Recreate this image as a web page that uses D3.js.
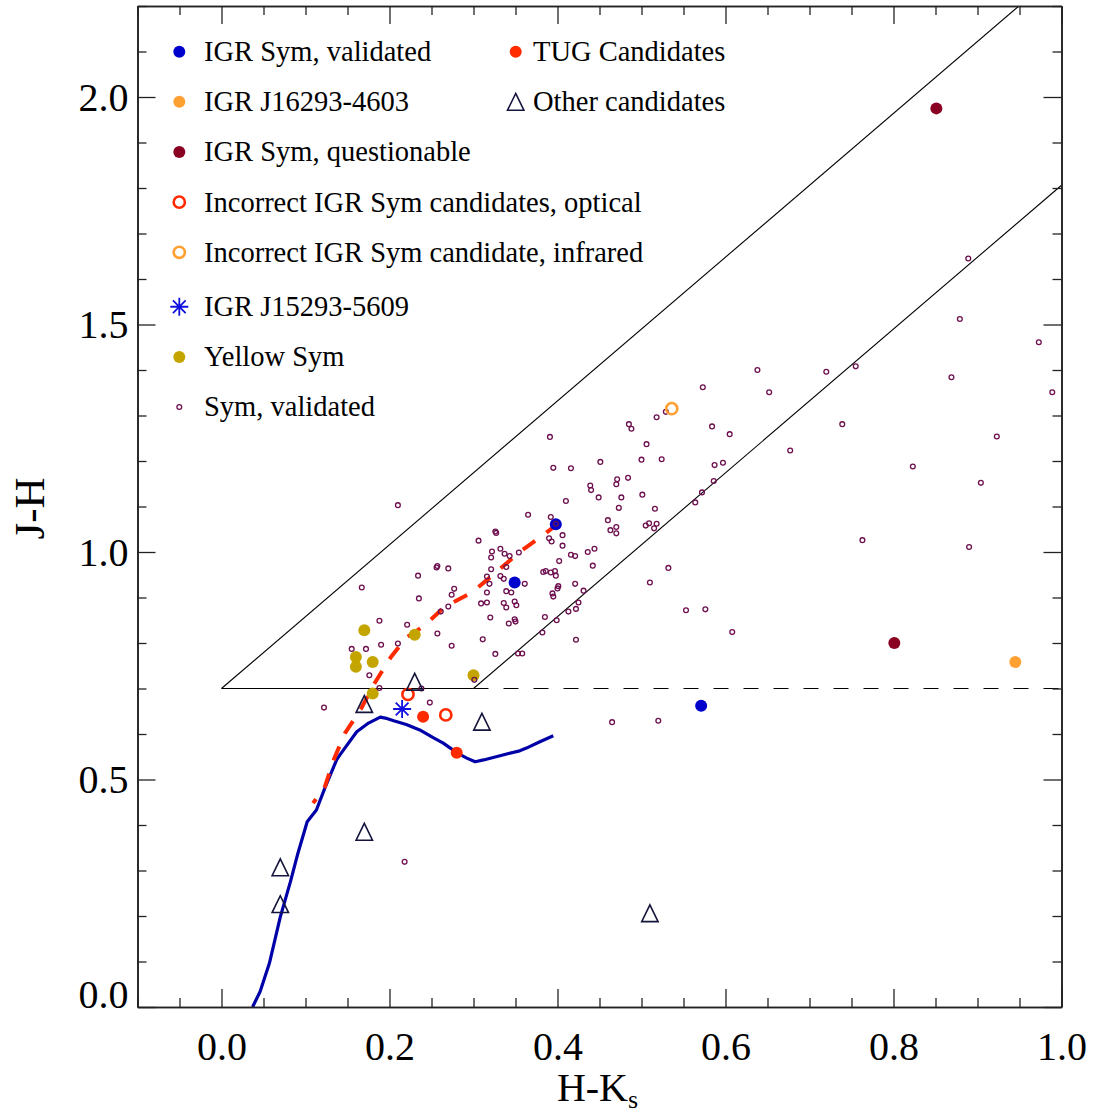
<!DOCTYPE html>
<html>
<head>
<meta charset="utf-8">
<script src="https://cdn.jsdelivr.net/npm/d3@7"></script>
<style>
  body { margin: 0; background: #fff; }
  svg { display: block; }
  text { font-family: "Liberation Serif", "Times New Roman", Times, serif; fill: #000; }
</style>
</head>
<body>
<svg id="chart" width="1098" height="1118"></svg>
<script>
// ---- axis setup ----
const xDomain = [-0.1, 1.0];
const yDomain = [0, 2.2];
const xMajorTicks = [0.0, 0.2, 0.4, 0.6, 0.8, 1.0];
const yMajorTicks = [0.0, 0.5, 1.0, 1.5, 2.0];
const xMinorStep = 0.05;
const yMinorStep = 0.1;
const xTitle = "H-K";
const xTitleSub = "s";
const yTitle = "J-H";

// ---- reddening box ----
const reddeningSlope = 1.58;
const boxBaseJH = 0.7;
const boxLeftHK = 0.0;
const boxRightHK = 0.3;

// ---- intrinsic sequences ----
// dwarf locus (solid blue)
const dwarfLocus = [
  [0.037, 0.000], [0.046, 0.034], [0.057, 0.096], [0.070, 0.198], [0.082, 0.275],
  [0.091, 0.338], [0.102, 0.407], [0.113, 0.433], [0.123, 0.481], [0.137, 0.543],
  [0.141, 0.554], [0.161, 0.605], [0.175, 0.624], [0.189, 0.637], [0.195, 0.635],
  [0.205, 0.629], [0.220, 0.621], [0.236, 0.609], [0.252, 0.592], [0.264, 0.580],
  [0.280, 0.559], [0.292, 0.547], [0.302, 0.539], [0.312, 0.543], [0.335, 0.554],
  [0.355, 0.563], [0.363, 0.569], [0.379, 0.583], [0.395, 0.596]
];
// giant branch (dashed red)
const giantTrack = [
  [0.109, 0.448], [0.123, 0.484], [0.134, 0.545], [0.147, 0.602], [0.166, 0.655],
  [0.183, 0.714], [0.202, 0.770], [0.220, 0.812], [0.240, 0.836], [0.266, 0.880],
  [0.298, 0.911], [0.326, 0.954], [0.355, 1.000], [0.383, 1.037], [0.411, 1.077]
];

// ---- sources ----
const igrSymValidated = [[0.398, 1.061], [0.349, 0.933], [0.571, 0.662]];
const igrJ16293 = [[0.945, 0.758]];
const igrSymQuestionable = [[0.851, 1.975], [0.801, 0.800]];
const incorrectOptical = [[0.222, 0.687], [0.267, 0.642]];
const incorrectInfrared = [[0.536, 1.315]];
const igrJ15293 = [[0.215, 0.655]];
const yellowSym = [
  [0.170, 0.828], [0.230, 0.818], [0.160, 0.769], [0.160, 0.748],
  [0.180, 0.758], [0.300, 0.729], [0.180, 0.689]
];
const tugCandidates = [[0.240, 0.638], [0.280, 0.559]];
const otherCandidates = [
  [0.230, 0.715], [0.170, 0.666], [0.310, 0.627], [0.170, 0.385],
  [0.070, 0.307], [0.070, 0.226], [0.510, 0.206]
];
const symValidated = [
  // redder outskirts
  [0.638, 1.400], [0.720, 1.396], [0.755, 1.408], [0.573, 1.362], [0.652, 1.351],
  [0.529, 1.308], [0.518, 1.296], [0.739, 1.281], [0.485, 1.281], [0.488, 1.271],
  [0.584, 1.276], [0.605, 1.259], [0.506, 1.237], [0.677, 1.223], [0.500, 1.203],
  [0.524, 1.204], [0.587, 1.191], [0.597, 1.196], [0.484, 1.163], [0.586, 1.156],
  [0.501, 1.126], [0.572, 1.131], [0.564, 1.109], [0.516, 1.095], [0.505, 1.058],
  [0.509, 1.063], [0.518, 1.062], [0.515, 1.052], [0.763, 1.026], [0.532, 0.965],
  [0.510, 0.933], [0.553, 0.872], [0.576, 0.874], [0.608, 0.824], [0.465, 0.626],
  [0.520, 0.629], [0.889, 1.645], [0.879, 1.512], [0.973, 1.461], [0.989, 1.351],
  [0.869, 1.384], [0.923, 1.254], [0.904, 1.152], [0.890, 1.011], [0.823, 1.188],
  // central clump
  [0.391, 1.253], [0.395, 1.185], [0.416, 1.184], [0.451, 1.198], [0.471, 1.160],
  [0.470, 1.149], [0.439, 1.146], [0.440, 1.136], [0.449, 1.120], [0.476, 1.120],
  [0.473, 1.097], [0.410, 1.112], [0.460, 1.070], [0.463, 1.048], [0.470, 1.055],
  [0.470, 1.041], [0.365, 1.082], [0.392, 1.077], [0.398, 1.062], [0.406, 1.037],
  [0.390, 1.030], [0.393, 1.023], [0.406, 1.014], [0.416, 0.994], [0.421, 0.991],
  [0.436, 1.000], [0.444, 1.007], [0.402, 0.980], [0.442, 0.970], [0.326, 1.045],
  [0.327, 1.042], [0.306, 1.025], [0.322, 1.001], [0.332, 1.007], [0.337, 0.996],
  [0.343, 0.991], [0.354, 0.999], [0.321, 0.988], [0.339, 0.967], [0.321, 0.962],
  [0.383, 0.956], [0.386, 0.958], [0.392, 0.955], [0.397, 0.958], [0.398, 0.948],
  [0.316, 0.946], [0.319, 0.930], [0.332, 0.947], [0.336, 0.941], [0.361, 0.930],
  [0.316, 0.911], [0.339, 0.914], [0.345, 0.911], [0.309, 0.887], [0.316, 0.889],
  [0.336, 0.888], [0.339, 0.878], [0.349, 0.891], [0.351, 0.883], [0.320, 0.856],
  [0.342, 0.843], [0.349, 0.852], [0.350, 0.847], [0.311, 0.808], [0.326, 0.776],
  [0.353, 0.777], [0.358, 0.777], [0.401, 0.925], [0.400, 0.920], [0.394, 0.909],
  [0.395, 0.902], [0.421, 0.930], [0.431, 0.915], [0.425, 0.889], [0.422, 0.875],
  [0.413, 0.869], [0.385, 0.857], [0.399, 0.850], [0.382, 0.823], [0.422, 0.807],
  // bluer side
  [0.210, 1.103], [0.256, 0.966], [0.257, 0.969], [0.270, 0.964], [0.234, 0.948],
  [0.167, 0.922], [0.277, 0.919], [0.274, 0.906], [0.235, 0.898], [0.270, 0.880],
  [0.261, 0.869], [0.188, 0.849], [0.221, 0.840], [0.257, 0.821], [0.155, 0.787],
  [0.172, 0.787], [0.190, 0.796], [0.210, 0.799], [0.274, 0.794], [0.176, 0.729],
  [0.188, 0.701], [0.238, 0.700], [0.301, 0.719], [0.248, 0.669], [0.122, 0.658],
  [0.218, 0.319]
];

// ---- legend ----
const legendLeft = [
  { label: "IGR Sym, validated", kind: "dot", color: "#0000cc" },
  { label: "IGR J16293-4603", kind: "dot", color: "#ffa033" },
  { label: "IGR Sym, questionable", kind: "dot", color: "#8a0022" },
  { label: "Incorrect IGR Sym candidates, optical", kind: "ring", color: "#ff2a00" },
  { label: "Incorrect IGR Sym candidate, infrared", kind: "ring", color: "#ffa033" },
  { label: "IGR J15293-5609", kind: "star", color: "#1010e0" },
  { label: "Yellow Sym", kind: "dot", color: "#c4a500" },
  { label: "Sym, validated", kind: "small", color: "#6e1050" }
];
const legendRight = [
  { label: "TUG Candidates", kind: "dot", color: "#ff2a00" },
  { label: "Other candidates", kind: "tri", color: "#14143c" }
];

// ---- drawing ----
const plot = { left: 137.5, right: 1061.5, top: 6, bottom: 1007 };
const svg = d3.select("#chart");

const x = d3.scaleLinear().domain(xDomain).range([plot.left, plot.right]);
const y = d3.scaleLinear().domain(yDomain).range([plot.bottom, plot.top]);

svg.append("defs").append("clipPath").attr("id", "plotClip")
  .append("rect")
  .attr("x", plot.left).attr("y", plot.top)
  .attr("width", plot.right - plot.left).attr("height", plot.bottom - plot.top);

const g = svg.append("g").attr("clip-path", "url(#plotClip)");
const line = d3.line().x(d => x(d[0])).y(d => y(d[1]));

// reddening band
const upperEnd = [boxLeftHK + (yDomain[1] - boxBaseJH) / reddeningSlope, yDomain[1]];
const lowerEnd = [xDomain[1], boxBaseJH + (xDomain[1] - boxRightHK) * reddeningSlope];
g.append("path").attr("d", line([[boxLeftHK, boxBaseJH], upperEnd]))
  .attr("fill", "none").attr("stroke", "#000").attr("stroke-width", 1.1);
g.append("path").attr("d", line([[boxRightHK, boxBaseJH], lowerEnd]))
  .attr("fill", "none").attr("stroke", "#000").attr("stroke-width", 1.1);
g.append("path").attr("d", line([[boxLeftHK, boxBaseJH], [boxRightHK, boxBaseJH]]))
  .attr("fill", "none").attr("stroke", "#000").attr("stroke-width", 1.1);
g.append("path").attr("d", line([[boxRightHK, boxBaseJH], [xDomain[1], boxBaseJH]]))
  .attr("fill", "none").attr("stroke", "#000").attr("stroke-width", 1.1)
  .attr("stroke-dasharray", "15,15");

// sequences
g.append("path").attr("d", line(dwarfLocus))
  .attr("fill", "none").attr("stroke", "#0000a8").attr("stroke-width", 3.2)
  .attr("stroke-linejoin", "round");
g.append("path").attr("d", line(giantTrack))
  .attr("fill", "none").attr("stroke", "#ff2a00").attr("stroke-width", 4)
  .attr("stroke-dasharray", "15,14").attr("stroke-dashoffset", 10);

// marker helpers
function drawMarker(sel, kind, color, cx, cy) {
  if (kind === "dot") {
    sel.append("circle").attr("cx", cx).attr("cy", cy).attr("r", 6).attr("fill", color);
  } else if (kind === "ring") {
    sel.append("circle").attr("cx", cx).attr("cy", cy).attr("r", 5.6)
      .attr("fill", "none").attr("stroke", color).attr("stroke-width", 2.6);
  } else if (kind === "small") {
    sel.append("circle").attr("cx", cx).attr("cy", cy).attr("r", 2.4)
      .attr("fill", "none").attr("stroke", color).attr("stroke-width", 1.3);
  } else if (kind === "tri") {
    const h = 8.4, w = 8.2;
    sel.append("path")
      .attr("d", `M${cx},${cy - h}L${cx + w},${cy + h}L${cx - w},${cy + h}Z`)
      .attr("fill", "none").attr("stroke", color).attr("stroke-width", 1.6);
  } else if (kind === "star") {
    const r = 9, dg = r * Math.SQRT1_2;
    sel.append("path")
      .attr("d", `M${cx - r},${cy}L${cx + r},${cy}M${cx},${cy - r}L${cx},${cy + r}` +
                 `M${cx - dg},${cy - dg}L${cx + dg},${cy + dg}M${cx - dg},${cy + dg}L${cx + dg},${cy - dg}`)
      .attr("fill", "none").attr("stroke", color).attr("stroke-width", 1.8);
  }
}
function drawSeries(data, kind, color) {
  const layer = g.append("g");
  data.forEach(d => drawMarker(layer, kind, color, x(d[0]), y(d[1])));
}

drawSeries(igrSymValidated, "dot", "#0000cc");
drawSeries(igrJ16293, "dot", "#ffa033");
drawSeries(igrSymQuestionable, "dot", "#8a0022");
drawSeries(yellowSym, "dot", "#c4a500");
drawSeries(tugCandidates, "dot", "#ff2a00");
drawSeries(symValidated, "small", "#6e1050");
drawSeries(incorrectOptical, "ring", "#ff2a00");
drawSeries(incorrectInfrared, "ring", "#ffa033");
drawSeries(igrJ15293, "star", "#1010e0");
drawSeries(otherCandidates, "tri", "#14143c");

// ---- axes (ticks inward on all four sides) ----
const range = (a, b, s) => d3.range(Math.round(a / s), Math.round(b / s) + 1).map(i => +(i * s).toFixed(4));
const xMinor = range(xDomain[0], xDomain[1], xMinorStep).filter(v => !xMajorTicks.some(m => Math.abs(m - v) < 1e-6));
const yMinor = range(yDomain[0], yDomain[1], yMinorStep).filter(v => !yMajorTicks.some(m => Math.abs(m - v) < 1e-6));
const majorLen = 18, minorLen = 9;
const axisColor = "#222";

function styleAxis(a) {
  a.selectAll(".domain").attr("stroke", axisColor).attr("stroke-width", 1.6);
  a.selectAll(".tick line").attr("stroke", axisColor).attr("stroke-width", 1.3);
}

// bottom
const bottomMajor = svg.append("g").attr("transform", `translate(0,${plot.bottom})`)
  .call(d3.axisBottom(x).tickValues(xMajorTicks).tickSize(-majorLen).tickSizeOuter(0)
    .tickPadding(25).tickFormat(d3.format(".1f")));
styleAxis(bottomMajor);
bottomMajor.selectAll(".tick text").attr("font-size", 40).attr("font-family", "Liberation Serif");
const bottomMinor = svg.append("g").attr("transform", `translate(0,${plot.bottom})`)
  .call(d3.axisBottom(x).tickValues(xMinor).tickSize(-minorLen).tickSizeOuter(0).tickFormat(""));
styleAxis(bottomMinor);

// top
const topMajor = svg.append("g").attr("transform", `translate(0,${plot.top})`)
  .call(d3.axisTop(x).tickValues(xMajorTicks).tickSize(-majorLen).tickSizeOuter(0).tickFormat(""));
styleAxis(topMajor);
const topMinor = svg.append("g").attr("transform", `translate(0,${plot.top})`)
  .call(d3.axisTop(x).tickValues(xMinor).tickSize(-minorLen).tickSizeOuter(0).tickFormat(""));
styleAxis(topMinor);

// left
const leftMajor = svg.append("g").attr("transform", `translate(${plot.left},0)`)
  .call(d3.axisLeft(y).tickValues(yMajorTicks).tickSize(-majorLen).tickSizeOuter(0)
    .tickPadding(9).tickFormat(d3.format(".1f")));
styleAxis(leftMajor);
leftMajor.selectAll(".tick text").attr("font-size", 40).attr("font-family", "Liberation Serif")
  .attr("dy", d => d === yDomain[0] ? "0.02em" : "0.33em");
const leftMinor = svg.append("g").attr("transform", `translate(${plot.left},0)`)
  .call(d3.axisLeft(y).tickValues(yMinor).tickSize(-minorLen).tickSizeOuter(0).tickFormat(""));
styleAxis(leftMinor);

// right
const rightMajor = svg.append("g").attr("transform", `translate(${plot.right},0)`)
  .call(d3.axisRight(y).tickValues(yMajorTicks).tickSize(-majorLen).tickSizeOuter(0).tickFormat(""));
styleAxis(rightMajor);
const rightMinor = svg.append("g").attr("transform", `translate(${plot.right},0)`)
  .call(d3.axisRight(y).tickValues(yMinor).tickSize(-minorLen).tickSizeOuter(0).tickFormat(""));
styleAxis(rightMinor);

// axis titles
const xt = svg.append("text")
  .attr("x", (plot.left + plot.right) / 2 - 2).attr("y", 1101)
  .attr("text-anchor", "middle").attr("font-size", 40);
xt.append("tspan").text(xTitle);
xt.append("tspan").attr("font-size", 26).attr("dy", 7).text(xTitleSub);

svg.append("text")
  .attr("transform", `translate(44,${(plot.top + plot.bottom) / 2 + 2}) rotate(-90)`)
  .attr("text-anchor", "middle").attr("font-size", 43).text(yTitle);

// ---- legend ----
const legend = svg.append("g");
const legendRow0 = 51.7, legendRowStep = 50.15, legendGapAfter = 4.3;
legendLeft.forEach((item, i) => {
  const cy = legendRow0 + i * legendRowStep + (i >= 5 ? legendGapAfter : 0);
  drawMarker(legend, item.kind, item.color, 179.3, cy);
  legend.append("text").attr("x", 204).attr("y", cy + 9.4)
    .attr("font-size", 28.5).text(item.label);
});
legendRight.forEach((item, i) => {
  const cy = legendRow0 + i * legendRowStep;
  drawMarker(legend, item.kind, item.color, 515.7, cy);
  legend.append("text").attr("x", 533).attr("y", cy + 9.4)
    .attr("font-size", 28.5).text(item.label);
});
</script>
</body>
</html>
